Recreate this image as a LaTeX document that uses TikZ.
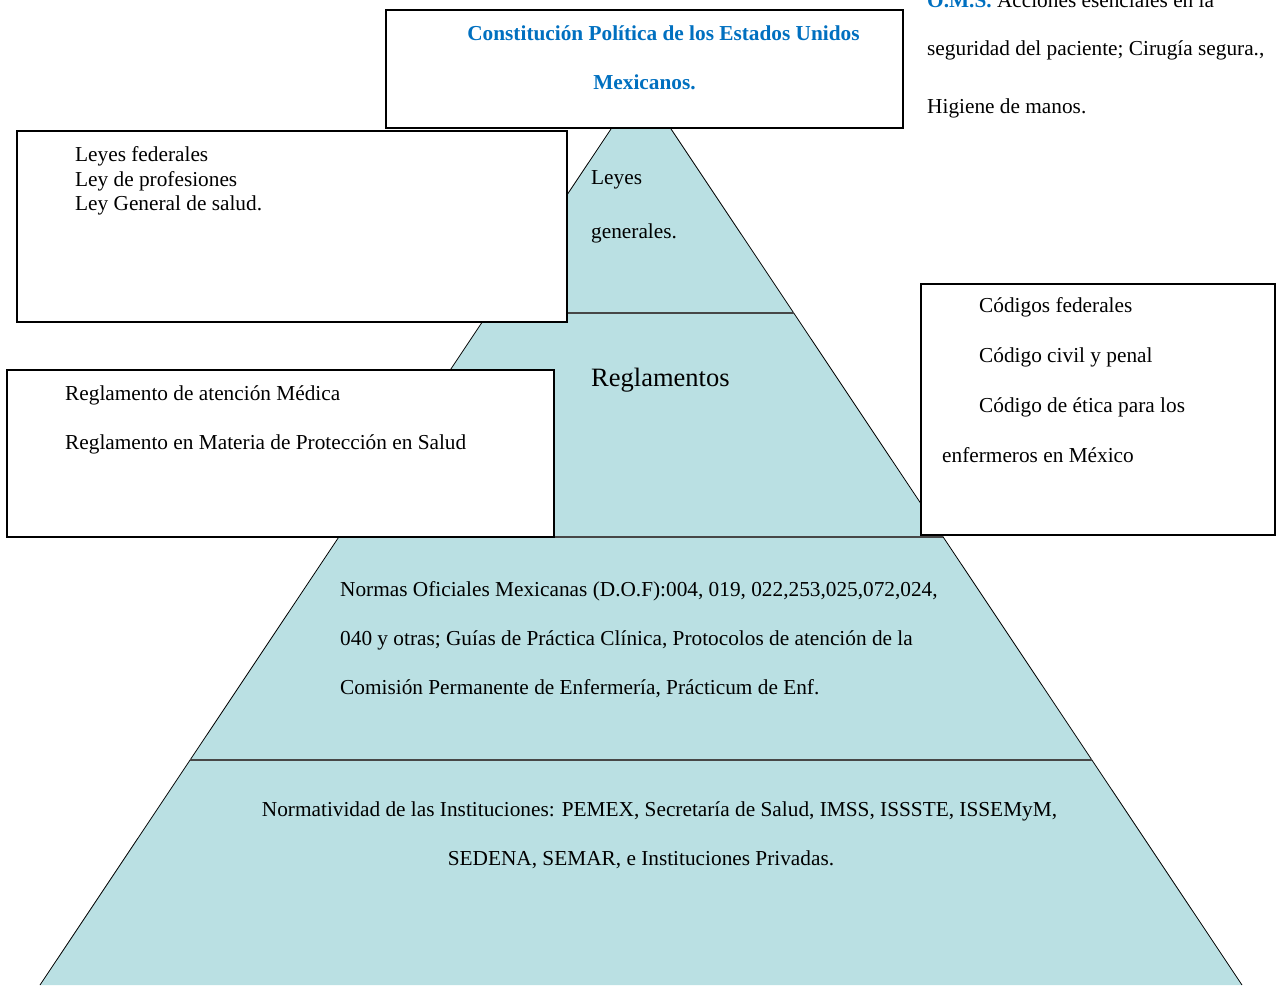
\documentclass[tikz,border=0pt]{standalone}
\usepackage{fontspec}
\setmainfont{Liberation Serif}
\usepackage{xcolor}
\usetikzlibrary{positioning,calc}
\definecolor{pyrfill}{HTML}{BAE0E3}
\definecolor{omsblue}{HTML}{0070C0}

\begin{document}
\begin{tikzpicture}[x=1pt,y=-1pt,
  bx/.style={draw,line width=1.5pt,fill=white,inner sep=0pt},
  tx/.style={inner sep=0pt,anchor=base west,align=left,font=\fontsize{21.3}{49}\selectfont},
  div/.style={draw=black!72,line width=2pt}]
\useasboundingbox (0,0) rectangle (1279,985);
% piramide
\coordinate (apex) at (641,84);
\coordinate (bl) at (40,985);
\coordinate (br) at (1242,985);
\fill[pyrfill] (apex) -- (bl) -- (br) -- cycle;
\draw[line width=0.8pt] (bl) -- (apex) -- (br);
\foreach \y in {313,537,760}
  \draw[div] ($(apex)!{(\y-84)/901}!(bl)$) -- ($(apex)!{(\y-84)/901}!(br)$);
% textos de la piramide (base = ultima linea)
\node[tx,align=left,font=\fontsize{21.3}{54}\selectfont] (leyesgen) at (591,238) {Leyes\\generales.};
\node[tx,font=\fontsize{26.5}{30}\selectfont] (regl) at (591,386) {Reglamentos};
\node[tx] (normas) at (340,694) {Normas Oficiales Mexicanas (D.O.F):004, 019, 022,253,025,072,024,\\
  040 y otras; Gu\'ias de Pr\'actica Cl\'inica, Protocolos de atenci\'on de la\\
  Comisi\'on Permanente de Enfermer\'ia, Pr\'acticum de Enf.};
\node[tx,align=center,anchor=base] (inst) at (641,865) {\hspace*{37pt}Normatividad de las Instituciones: PEMEX, Secretar\'ia de Salud, IMSS, ISSSTE, ISSEMyM,\\
  SEDENA, SEMAR, e Instituciones Privadas.};
% cuadros
\node[bx,minimum width=517pt,minimum height=118pt] (cpeumbox) at (644.5,69) {};
\node[tx,align=center,anchor=base,text=omsblue,font=\fontsize{21.3}{49}\selectfont\bfseries] (cpeum) at (644.5,89.3)
  {\hspace*{38pt}Constituci\'on Pol\'itica de los Estados Unidos\\Mexicanos.};
\node[bx,minimum width=550pt,minimum height=191pt] (fedbox) at (292,226.5) {};
\node[tx,font=\fontsize{21.3}{24.4}\selectfont] (fed) at (75,210.5) {Leyes federales\\Ley de profesiones\\Ley General de salud.};
\node[bx,minimum width=547pt,minimum height=167pt] (reglbox) at (280.5,453.5) {};
\node[tx] (reglam) at (65,449) {Reglamento de atenci\'on M\'edica\\Reglamento en Materia de Protecci\'on en Salud};
\node[bx,minimum width=354pt,minimum height=251pt] (codbox) at (1098,409.5) {};
\node[tx,font=\fontsize{21.3}{49.7}\selectfont] (cod) at (942,462) {\hspace*{37pt}C\'odigos federales\\
  \hspace*{37pt}C\'odigo civil y penal\\
  \hspace*{37pt}C\'odigo de \'etica para los\\
  enfermeros en M\'exico};
% OMS sin cuadro
\node[tx,font=\fontsize{21.3}{48}\selectfont] (oms) at (927,113) {{\color{omsblue}\bfseries O.M.S.} Acciones esenciales en la\\
  seguridad del paciente; Cirug\'ia segura.,\\[10pt]
  Higiene de manos.};
\end{tikzpicture}
\end{document}
